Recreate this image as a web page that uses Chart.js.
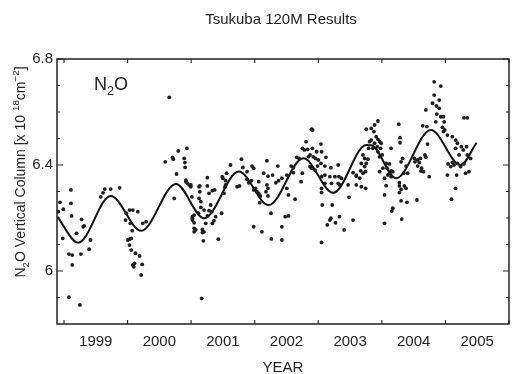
<!DOCTYPE html>
<html>
<head>
<meta charset="utf-8">
<script src="https://cdn.jsdelivr.net/npm/chart.js@4"></script>
<style>
  html, body { margin: 0; padding: 0; background: #fff; }
  #wrap { width: 513px; height: 374px; position: relative; }
</style>
</head>
<body>
<div id="wrap"><canvas id="chartN2O"></canvas></div>
<script>
// Tick labels
const xTickYears = [1999.5, 2000.5, 2001.5, 2002.5, 2003.5, 2004.5, 2005.5];
const xTickLabels = ['1999', '2000', '2001', '2002', '2003', '2004', '2005'];
const xYearTicks = [1999, 2000, 2001, 2002, 2003, 2004, 2005, 2006];
const yTickLabels = [6, 6.4, 6.8];
const yMinorTicks = [5.9, 6.0, 6.1, 6.2, 6.3, 6.4, 6.5, 6.6, 6.7, 6.8];

// Fitted seasonal curve
const fitYears = [1998.895, 1999.223, 1999.734, 2000.214, 2000.761, 2001.203, 2001.75, 2002.219,
  2002.766, 2003.234, 2003.755, 2003.83, 2004.223, 2004.77, 2005.239, 2005.489];
const fitValues = [6.205, 6.107, 6.283, 6.152, 6.328, 6.199, 6.375, 6.249,
  6.425, 6.295, 6.475, 6.475, 6.35, 6.532, 6.4, 6.484];

// Individual observations
const obsYears = [
  1998.938, 1998.911, 1998.989, 1999.109, 1999.109, 1999.12, 1998.98, 1999.198, 1999.277, 1999.302,
  1999.317, 1999.266, 1999.078, 1999.13, 1999.13, 1999.417, 1999.395, 1999.078, 1999.25, 1999.578,
  1999.614, 1999.641, 1999.734, 1999.875, 1999.98, 1999.969, 2000.031, 2000.083, 2000.161, 2000.042,
  2000.073, 2000.005, 2000.031, 2000.058, 2000.031, 2000.058, 2000.125, 2000.188, 2000.109, 2000.098,
  2000.083, 2000.23, 2000.214, 2000.239, 2000.292, 2000.734, 2000.77, 2000.917, 2000.969, 2000.995,
  2001.02, 2001.02, 2001.047, 2001.073, 2001.047, 2001.125,
  2000.656, 2000.594, 2000.708, 2000.719, 2000.797, 2000.891, 2000.902, 2000.906, 2000.933,
  2001.62, 2001.792, 2001.813, 2001.88, 2001.958, 2001.984, 2001.558, 2001.489, 2001.255, 2002.192,
  2002.364, 2002.141, 2002.208, 2002.281, 2002.895, 2002.911, 2002.808, 2002.75, 2002.781, 2002.833,
  2002.906, 2002.974, 2003.042, 2003.052, 2002.661, 2002.698, 2002.87, 2002.844, 2002.922, 2002.958,
  2003.0, 2003.12, 2003.042, 2003.104, 2003.198, 2003.313, 2002.573, 2002.609, 2002.75, 2002.87,
  2002.895, 2002.948, 2002.989, 2003.052, 2003.104, 2003.182, 2003.261, 2003.323, 2002.505,
  2000.917, 2000.942, 2000.995, 2001.136, 2001.136, 2001.255, 2001.281, 2001.333, 2001.37, 2001.011,
  2001.125, 2001.152, 2001.308, 2001.152, 2001.203, 2001.281, 2001.323, 2001.047, 2001.114, 2001.255,
  2001.02, 2001.047, 2001.177, 2001.177, 2001.203, 2001.23, 2001.333, 2001.359, 2001.386, 2001.48,
  2001.516, 2001.531, 2001.542, 2001.5, 2001.542, 2001.723, 2001.761, 2001.192, 2001.427, 2001.167,
  2001.88, 2001.906, 2001.948, 2002.011, 2001.984, 2002.036, 2002.063, 2002.089, 2002.063, 2002.192,
  2002.208, 2002.177, 2002.208, 2002.078, 2002.255, 2002.333, 2002.375, 2002.427, 2002.505, 2002.531,
  2002.48, 2002.531, 2002.427, 2001.984, 2002.114, 2002.261, 2002.427, 2002.636, 2002.609, 2002.73,
  2003.052, 2003.052, 2003.104, 2003.208, 2003.313, 2003.364, 2003.469, 2003.598, 2003.598, 2003.484,
  2003.063, 2003.219, 2003.198, 2003.182, 2003.27, 2003.333, 2003.141, 2003.406, 2003.547, 2003.052,
  2004.823, 2004.927, 2004.823, 2004.902, 2004.797, 2004.859, 2004.902, 2004.692, 2004.864, 2004.927,
  2004.969, 2004.848, 2004.98, 2004.953, 2004.989, 2005.292, 2005.344, 2004.641, 2004.708, 2003.755,
  2003.833, 2003.886, 2003.938, 2003.875, 2004.266, 2004.286, 2004.286, 2003.911, 2003.938, 2003.964,
  2003.833, 2003.808, 2003.886, 2003.989, 2003.927, 2003.98, 2003.859, 2003.792, 2003.938, 2004.005,
  2003.964, 2003.703, 2003.73, 2003.781, 2003.677, 2003.755, 2003.73, 2003.667, 2003.703, 2003.598,
  2004.145, 2004.067, 2004.016, 2004.083, 2004.12, 2004.145, 2004.12, 2004.172, 2004.094, 2004.145,
  2004.042, 2004.328, 2004.302, 2004.38, 2004.344, 2004.406, 2004.511, 2004.563, 2004.52, 2004.589,
  2004.563, 2004.605, 2004.677, 2004.692, 2004.719, 2004.625, 2004.656, 2004.745, 2004.969, 2005.031,
  2005.109, 2005.161, 2005.25, 2005.281, 2005.333, 2005.188, 2005.161, 2005.214, 2005.109, 2005.135,
  2005.188, 2005.083, 2005.042, 2005.292, 2005.395, 2005.344, 2005.239, 2005.37, 2005.317, 2005.177,
  2005.031,
  2003.339, 2003.547, 2003.652, 2003.677, 2003.745, 2003.745, 2003.964, 2004.067, 2004.042, 2004.276,
  2004.276, 2004.354, 2004.38, 2004.302, 2004.276, 2004.302, 2004.395, 2004.552, 2004.172, 2004.156,
  2004.313, 2004.042, 2004.614, 2005.161, 2005.094
];
const obsValues = [
  6.259, 6.224, 6.233, 6.306, 6.255, 6.208, 6.123, 6.142, 6.195, 6.167,
  6.17, 6.064, 6.064, 6.06, 6.023, 6.117, 6.082, 5.901, 5.872, 6.28,
  6.295, 6.309, 6.309, 6.314, 6.218, 6.192, 6.23, 6.23, 6.224, 6.18,
  6.152, 6.117, 6.12, 6.123, 6.098, 6.079, 6.067, 6.057, 6.029, 6.016,
  6.023, 6.025, 5.985, 6.18, 6.186, 6.274, 6.366, 6.337, 6.325, 6.325,
  6.205, 6.192, 6.161, 6.155, 6.148, 6.318,
  6.655, 6.412, 6.429, 6.422, 6.453, 6.425, 6.409, 6.391, 6.463,
  6.4, 6.422, 6.391, 6.375, 6.396, 6.388, 6.369, 6.356, 6.352, 6.416,
  6.396, 6.369, 6.358, 6.362, 6.535, 6.532, 6.488, 6.463, 6.457, 6.459,
  6.463, 6.45, 6.479, 6.45, 6.429, 6.425, 6.438, 6.431, 6.431, 6.425,
  6.419, 6.429, 6.406, 6.396, 6.39, 6.4, 6.396, 6.39, 6.369, 6.394,
  6.388, 6.381, 6.396, 6.356, 6.362, 6.356, 6.356, 6.356, 6.362,
  6.343, 6.331, 6.318, 6.321, 6.299, 6.321, 6.293, 6.303, 6.306, 6.28,
  6.274, 6.262, 6.249, 6.24, 6.23, 6.228, 6.224, 6.211, 6.218, 6.208,
  6.199, 6.182, 6.157, 6.145, 6.148, 6.18, 6.18, 6.19, 6.205, 6.218,
  6.293, 6.316, 6.325, 6.35, 6.341, 6.318, 6.321, 6.114, 6.12, 5.897,
  6.346, 6.333, 6.341, 6.312, 6.306, 6.299, 6.293, 6.283, 6.337, 6.325,
  6.312, 6.299, 6.283, 6.258, 6.218, 6.333, 6.341, 6.35, 6.312, 6.287,
  6.205, 6.208, 6.167, 6.167, 6.148, 6.121, 6.117, 6.271, 6.371, 6.337,
  6.312, 6.296, 6.331, 6.331, 6.331, 6.35, 6.325, 6.358, 6.325, 6.278,
  6.249, 6.249, 6.199, 6.192, 6.182, 6.205, 6.174, 6.155, 6.192, 6.108,
  6.714, 6.698, 6.664, 6.645, 6.633, 6.623, 6.614, 6.608, 6.592, 6.582,
  6.582, 6.563, 6.563, 6.542, 6.532, 6.578, 6.578, 6.548, 6.545, 6.535,
  6.538, 6.551, 6.566, 6.526, 6.554, 6.503, 6.484, 6.507, 6.497, 6.488,
  6.494, 6.488, 6.482, 6.482, 6.469, 6.463, 6.463, 6.463, 6.45, 6.438,
  6.431, 6.438, 6.425, 6.422, 6.406, 6.406, 6.394, 6.378, 6.369, 6.362,
  6.463, 6.406, 6.388, 6.388, 6.404, 6.378, 6.369, 6.375, 6.362, 6.356,
  6.35, 6.425, 6.412, 6.396, 6.369, 6.369, 6.425, 6.419, 6.412, 6.409,
  6.396, 6.425, 6.438, 6.429, 6.479, 6.388, 6.375, 6.356, 6.526, 6.513,
  6.507, 6.494, 6.469, 6.457, 6.469, 6.482, 6.463, 6.438, 6.409, 6.4,
  6.406, 6.394, 6.404, 6.404, 6.425, 6.438, 6.394, 6.375, 6.369, 6.362,
  6.362,
  6.325, 6.371, 6.35, 6.318, 6.312, 6.375, 6.375, 6.322, 6.287, 6.333,
  6.321, 6.321, 6.312, 6.308, 6.296, 6.265, 6.259, 6.268, 6.237, 6.226,
  6.196, 6.18, 6.377, 6.312, 6.271
];

const FONT = '"Liberation Sans", Arial, Helvetica, sans-serif';

// draws a string made of normal / sub / superscript parts
function drawParts(ctx, parts, x, y, size) {
    let cx = x;
    parts.forEach(p => {
        const s = p.k ? size * 0.7 : size;
        ctx.font = s + 'px ' + FONT;
        const dy = p.k === 'sub' ? size * 0.28 : (p.k === 'sup' ? -size * 0.42 : 0);
        ctx.fillText(p.t, cx, y + dy);
        cx += ctx.measureText(p.t).width;
    });
}
function partsWidth(ctx, parts, size) {
    let w = 0;
    parts.forEach(p => {
        ctx.font = (p.k ? size * 0.7 : size) + 'px ' + FONT;
        w += ctx.measureText(p.t).width;
    });
    return w;
}

const framePlugin = {
    id: 'frame',
    afterDraw(chart) {
        const { ctx, chartArea: a, scales } = chart;
        const xs = scales.x, ys = scales.y;
        ctx.save();
        ctx.strokeStyle = '#222';
        ctx.lineWidth = 1.5;
        ctx.strokeRect(a.left, a.top, a.right - a.left, a.bottom - a.top);
        ctx.lineWidth = 1.1;
        ctx.beginPath();
        xYearTicks.forEach(v => {
            const px = xs.getPixelForValue(v);
            ctx.moveTo(px, a.bottom); ctx.lineTo(px, a.bottom - 4);
            ctx.moveTo(px, a.top); ctx.lineTo(px, a.top + 4);
        });
        yMinorTicks.forEach(v => {
            const py = ys.getPixelForValue(v);
            const len = yTickLabels.some(t => Math.abs(t - v) < 1e-6) ? 6 : 3;
            ctx.moveTo(a.left, py); ctx.lineTo(a.left + len, py);
            ctx.moveTo(a.right, py); ctx.lineTo(a.right - len, py);
        });
        ctx.stroke();

        ctx.fillStyle = '#222';
        ctx.textBaseline = 'alphabetic';
        // title
        ctx.font = '15px ' + FONT;
        ctx.textAlign = 'center';
        ctx.fillText('Tsukuba 120M Results', 281, 24);
        ctx.fillText('YEAR', 283, 372);
        ctx.textAlign = 'left';
        // species label in the plot
        drawParts(ctx, [{ t: 'N' }, { t: '2', k: 'sub' }, { t: 'O' }], 94, 90, 18);
        // y axis title, rotated
        const yParts = [{ t: 'N' }, { t: '2', k: 'sub' }, { t: 'O Vertical Column [x 10 ' },
            { t: '18', k: 'sup' }, { t: 'cm' }, { t: '\u22122', k: 'sup' }, { t: ']' }];
        const w = partsWidth(ctx, yParts, 14);
        ctx.translate(25, 172 + w / 2);
        ctx.rotate(-Math.PI / 2);
        drawParts(ctx, yParts, 0, 0, 14);
        ctx.restore();
    }
};

new Chart(document.getElementById('chartN2O'), {
    data: {
        datasets: [{
            type: 'scatter',
            label: 'obs',
            data: obsYears.map((x, i) => ({ x: x, y: obsValues[i] })),
            backgroundColor: '#1e1e1e',
            borderWidth: 0,
            pointRadius: 1.9
        }, {
            type: 'line',
            label: 'fit',
            data: fitYears.map((x, i) => ({ x: x, y: fitValues[i] })),
            borderColor: '#111',
            borderWidth: 2,
            pointRadius: 0,
            fill: false,
            cubicInterpolationMode: 'monotone'
        }]
    },
    options: {
        responsive: true,
        maintainAspectRatio: false,
        animation: false,
        layout: { padding: { left: 0, top: 59, right: 1, bottom: 0 } },
        plugins: { legend: { display: false }, tooltip: { enabled: false }, title: { display: false } },
        scales: {
            x: {
                type: 'linear',
                min: 1998.89,
                max: 2006.0,
                afterBuildTicks: s => { s.ticks = xTickYears.map(v => ({ value: v })); },
                afterFit: s => { s.height = 50; },
                grid: { display: false, drawTicks: false },
                border: { display: false },
                ticks: {
                    autoSkip: false, maxRotation: 0, padding: 9,
                    color: '#222', font: { family: FONT, size: 15 },
                    callback: (v, i) => xTickLabels[i]
                }
            },
            y: {
                type: 'linear',
                min: 5.8,
                max: 6.8,
                afterBuildTicks: s => { s.ticks = yTickLabels.map(v => ({ value: v })); },
                afterFit: s => { s.width = 57; },
                grid: { display: false, drawTicks: false },
                border: { display: false },
                ticks: {
                    padding: 4,
                    color: '#222', font: { family: FONT, size: 15 },
                    callback: v => String(v)
                }
            }
        }
    },
    plugins: [framePlugin]
});
</script>
</body>
</html>
